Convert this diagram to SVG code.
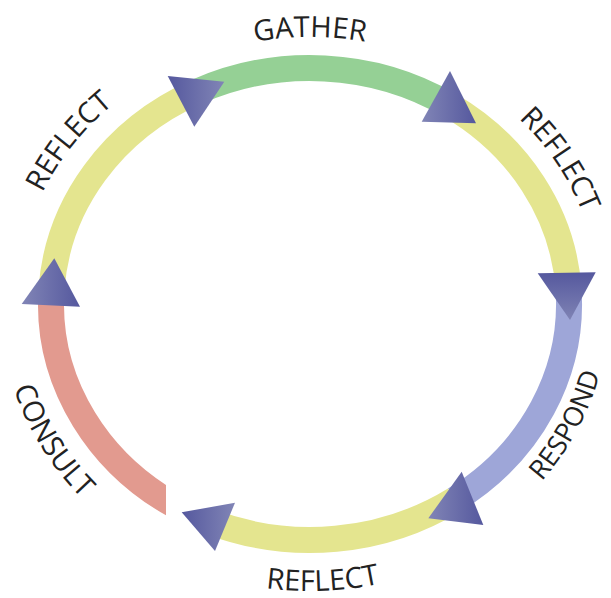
<svg xmlns="http://www.w3.org/2000/svg" width="611" height="598" viewBox="0 0 611 598">
<style>
.seg{fill:none;stroke-width:26;stroke-linecap:butt}
.lbl{font-family:"Open Sans","Liberation Sans",sans-serif;font-size:29px;fill:#222}
.gather{stroke:#95d095}
.reflect{stroke:#e4e58f}
.respond{stroke:#9ea6d8}
.consult{stroke:#e29a8f}
</style>
<defs>
<linearGradient id="gA" x1="0" y1="0" x2="1" y2="0"><stop offset="0" stop-color="#55589e"/><stop offset="1" stop-color="#8185b6"/></linearGradient>
<linearGradient id="gB" x1="0" y1="0" x2="1" y2="0"><stop offset="0" stop-color="#8185b6"/><stop offset="1" stop-color="#55589e"/></linearGradient>
<linearGradient id="gC" x1="0" y1="0" x2="0" y2="1"><stop offset="0" stop-color="#55589e"/><stop offset="1" stop-color="#7f83b4"/></linearGradient>
<clipPath id="pinkClip"><rect x="0" y="0" width="166" height="598"/></clipPath>
<path id="pGather" d="M104.9,115.2 A290,267 0 0 1 515.1,115.2"/>
<path id="pReflectL" d="M20.4,350.4 A294,269 0 0 1 259.7,39.1"/>
<path id="pReflectR" d="M380.2,44.9 A290,267 0 0 1 591.4,368.6"/>
<path id="pRespond" d="M407.9,568.4 A299,279 0 0 0 593.1,214.6"/>
<path id="pConsult" d="M12,224.9 A310,287 0 0 0 224.6,579.9"/>
<path id="pReflectB" d="M100.6,515.6 A310,287 0 0 0 538.6,497.9"/>
</defs>
<rect width="611" height="598" fill="#fff"/>
<g id="stage-reflect-left">
<path class="seg reflect" d="M51.5,289.6 A259,236 0 0 1 196.5,91.9"/>
<text class="lbl"><textPath href="#pReflectL" startOffset="50%" text-anchor="middle">REFLECT</textPath></text>
</g>
<g id="stage-gather">
<path class="seg gather" d="M196.5,91.9 A259,236 0 0 1 449.2,105"/>
<text class="lbl"><textPath href="#pGather" startOffset="50%" text-anchor="middle">GATHER</textPath></text>
</g>
<g id="stage-reflect-right">
<path class="seg reflect" d="M449.2,105 A259,236 0 0 1 568.5,288.8"/>
<text class="lbl"><textPath href="#pReflectR" startOffset="50%" text-anchor="middle">REFLECT</textPath></text>
</g>
<g id="stage-respond">
<path class="seg respond" d="M568.5,288.8 A259,236 0 0 1 454.8,499.6"/>
<text class="lbl" style="font-size:27px"><textPath href="#pRespond" startOffset="50%" text-anchor="middle">RESPOND</textPath></text>
</g>
<g id="stage-reflect-bottom">
<path class="seg reflect" d="M454.8,499.6 A259,236 0 0 1 210.9,522"/>
<text class="lbl"><textPath href="#pReflectB" startOffset="50%" text-anchor="middle">REFLECT</textPath></text>
</g>
<g id="stage-consult">
<path class="seg consult" clip-path="url(#pinkClip)" d="M188.4,512.4 A259,236 0 0 1 51.5,289.6"/>
<text class="lbl"><textPath href="#pConsult" startOffset="50%" text-anchor="middle">CONSULT</textPath></text>
</g>
<g id="connectors">
<polygon points="167.7,76 224.3,81.7 194.3,126.7" fill="url(#gA)"/>
<polygon points="450,71 421.7,121.7 476,123.3" fill="url(#gB)"/>
<polygon points="537.7,273.3 595.7,272.3 570,320" fill="url(#gC)"/>
<polygon points="461.7,471.7 428.3,518.3 483.3,525" fill="url(#gB)"/>
<polygon points="181.7,512.3 235,502.7 215,551" fill="url(#gA)"/>
<polygon points="54.3,258.3 21.7,304 80,306.7" fill="url(#gB)"/>
</g>
</svg>
